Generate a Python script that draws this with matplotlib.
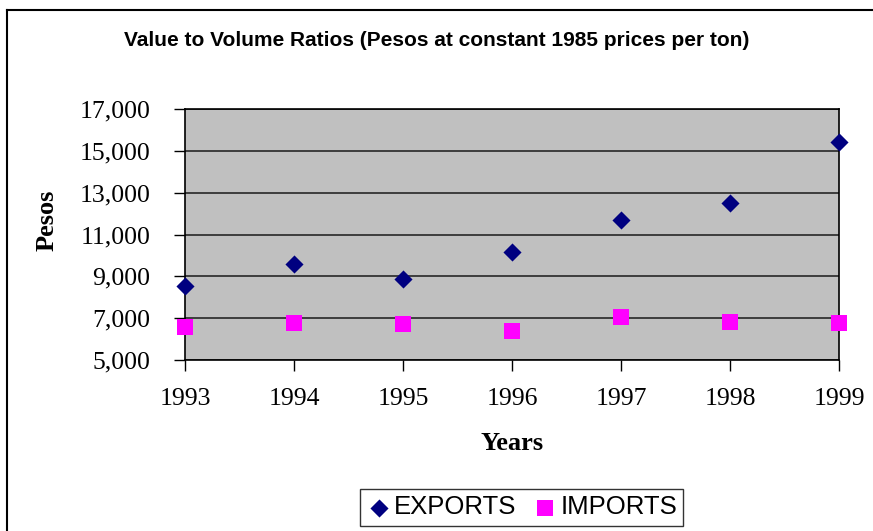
import matplotlib.pyplot as plt
from matplotlib.lines import Line2D

years = [1993, 1994, 1995, 1996, 1997, 1998, 1999]
exports = [8540, 9590, 8860, 10150, 11710, 12530, 15420]
imports = [6580, 6760, 6720, 6370, 7040, 6830, 6780]
yticks = [5000, 7000, 9000, 11000, 13000, 15000, 17000]

fig = plt.figure(figsize=(8.73, 5.31), dpi=100)
ax = fig.add_axes([185/873, 1-360/531, (839.3-185)/873, (360-109.3)/531])
ax.set_facecolor('#C0C0C0')

ax.scatter(years, exports, marker='D', s=85, c='#000080', zorder=3, clip_on=False, label='EXPORTS', linewidths=0)
ax.scatter(years, imports, marker='s', s=120, c='#FF00FF', zorder=3, clip_on=False, label='IMPORTS', linewidths=0)

ax.set_xlim(1993, 1999)
ax.set_ylim(5000, 17000)
ax.set_xticks(years)
ax.set_yticks(yticks)
ax.set_yticklabels(['{:,}'.format(v) for v in yticks])
ax.grid(axis='y', color='#333333', linewidth=1.3, zorder=1)
ax.set_axisbelow(True)
for s in ax.spines.values():
    s.set_color('black')
    s.set_linewidth(1.2)
ax.tick_params(direction='out', length=8, width=1, color='black')
ax.tick_params(axis='y', pad=17)
ax.tick_params(axis='x', pad=12)
for lab in ax.get_xticklabels() + ax.get_yticklabels():
    lab.set_fontfamily('Liberation Serif')
    lab.set_fontsize(18.5)

fig.text(0.5, 1-40/531, 'Value to Volume Ratios (Pesos at constant 1985 prices per ton)',
         ha='center', va='center', fontfamily='Liberation Sans', fontweight='bold', fontsize=15)
fig.text(512/873, 1-444/531, 'Years', ha='center', va='center',
         fontfamily='Liberation Serif', fontweight='bold', fontsize=19)
fig.text(47/873, 1-220/531, 'Pesos', ha='center', va='center', rotation=90,
         fontfamily='Liberation Serif', fontweight='bold', fontsize=19)

leg = fig.legend(loc='center', bbox_to_anchor=(521.5/873, 1-507.5/531), ncol=2,
                 prop={'family': 'Liberation Sans', 'size': 18.5}, fancybox=False,
                 edgecolor='black', handletextpad=0.1, columnspacing=0.6,
                 handlelength=1.0, borderpad=0.25, markerscale=1.0)
leg.get_frame().set_linewidth(1.0)

fig.add_artist(Line2D([7/873, 7/873], [0, 1-9.5/531], color='black', linewidth=1.5))
fig.add_artist(Line2D([7/873, 1], [1-9.5/531, 1-9.5/531], color='black', linewidth=1.5))

fig.savefig('out.png', dpi=100)
